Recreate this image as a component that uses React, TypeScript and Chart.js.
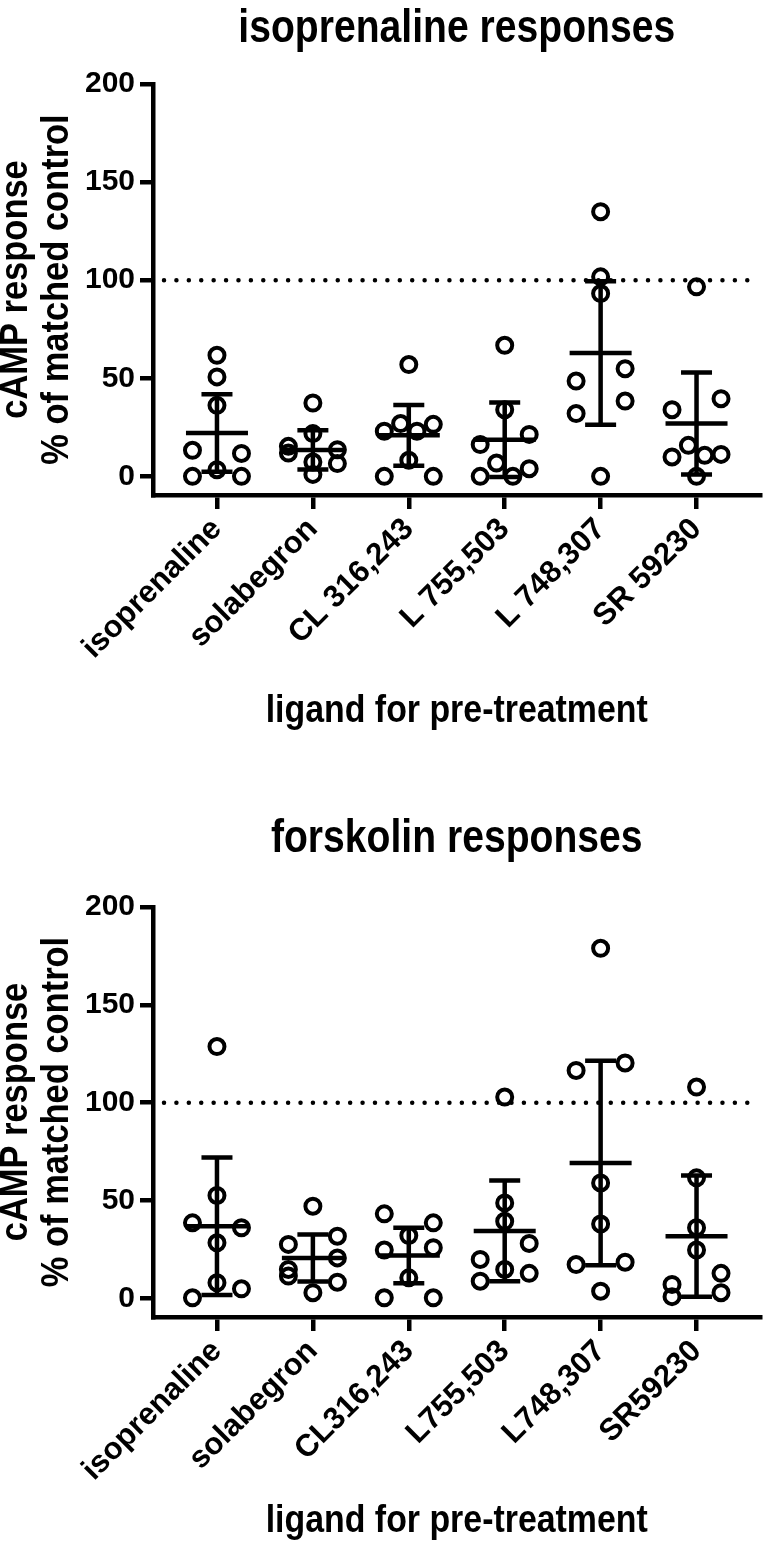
import { useEffect, useRef } from 'react'
import { Chart, registerables } from 'chart.js'
import type { Plugin } from 'chart.js'

Chart.register(...registerables)
Chart.defaults.font.family = '"Liberation Sans", Arial, sans-serif'
Chart.defaults.color = '#000'

// ---- data ----
const isoLabels = ['isoprenaline', 'solabegron', 'CL 316,243', 'L 755,503', 'L 748,307', 'SR 59230']
const forskLabels = ['isoprenaline', 'solabegron', 'CL316,243', 'L755,503', 'L748,307', 'SR59230']
const yTicks = [0, 50, 100, 150, 200]
const refLevel = 100
const xTitle = 'ligand for pre-treatment'
const yTitle = ['cAMP response', '% of matched control']

// isoprenaline responses (% of matched control), one list per pre-treatment
const isoIsoprenaline = [61.7, 50.7, 36.2, 13.3, 11.7, 0, 3.4, 0]
const isoSolabegron = [37.4, 15.3, 21.8, 13.6, 11.9, 7.3, 6.5, 1.0]
const isoCL = [57.0, 23.0, 26.9, 23.0, 26.5, 0, 8.2, 0]
const isoL755 = [66.8, 34.0, 16.2, 21.4, 0, 6.8, 0, 3.9]
const isoL748 = [134.9, 101.7, 93.2, 48.6, 54.9, 32.0, 38.4, 0]
const isoSR = [96.6, 34.0, 39.6, 9.9, 15.8, 10.7, 11.2, 0]
const isoMean = [22.1, 13.5, 20.9, 18.7, 62.9, 26.9]
const isoSd = [19.7, 10.0, 15.5, 19.0, 36.6, 26.0]

// forskolin responses (% of matched control)
const forskIsoprenaline = [128.7, 52.6, 38.6, 36.1, 28.4, 0.3, 8.0, 4.9]
const forskSolabegron = [47.1, 27.6, 31.8, 14.8, 20.7, 11.4, 8.3, 2.9]
const forskCL = [43.2, 38.6, 24.7, 32.1, 25.9, 10.5, 0.3, 0.3]
const forskL755 = [102.9, 48.8, 39.4, 19.9, 28.1, 8.8, 14.8, 12.8]
const forskL748 = [178.9, 116.5, 120.3, 59.0, 38.0, 17.3, 18.5, 3.7]
const forskSR = [108.0, 61.6, 36.1, 24.7, 7.1, 12.8, 0.9, 2.9]
const forskMean = [36.9, 20.7, 21.9, 34.5, 69.2, 31.8]
const forskSd = [35.1, 12.0, 14.2, 25.7, 52.3, 31.0]

const FONT = '"Liberation Sans", Arial, sans-serif'

// spread points of a column sideways, row by row (like a column scatter)
const swarmPlugin: Plugin<'scatter'> = {
  id: 'swarm',
  afterDatasetsUpdate(chart) {
    const rowGap = 16.4
    const half = 24.5
    chart.data.datasets.forEach((_ds, di) => {
      const pts = chart.getDatasetMeta(di).data as any[]
      const order = pts.map((_p, i) => i).sort((a, b) => pts[a].y - pts[b].y)
      const rows: number[][] = []
      let anchor = -Infinity
      order.forEach(i => {
        if (rows.length && pts[i].y - anchor <= rowGap) rows[rows.length - 1].push(i)
        else {
          rows.push([i])
          anchor = pts[i].y
        }
      })
      rows.forEach(row => {
        row.sort((a, b) => a - b)
        const n = row.length
        row.forEach((i, k) => {
          pts[i].x += n === 1 ? 0 : -half + (2 * half * k) / (n - 1)
        })
      })
    })
  }
}

const meanSdPlugin: Plugin<'scatter'> = {
  id: 'meanSd',
  afterDatasetsDraw(chart, _args, opts: any) {
    const { ctx } = chart
    const x = chart.scales.x
    const y = chart.scales.y
    ctx.save()
    ctx.strokeStyle = '#000'
    ctx.lineWidth = 4.5
    ctx.lineCap = 'butt'
    opts.mean.forEach((m: number, i: number) => {
      const cx = x.getPixelForValue(i)
      const ym = y.getPixelForValue(m)
      const yHi = y.getPixelForValue(m + opts.sd[i])
      const yLo = y.getPixelForValue(m - opts.sd[i])
      ctx.beginPath()
      ctx.moveTo(cx - 31, ym)
      ctx.lineTo(cx + 31, ym)
      ctx.moveTo(cx, yHi)
      ctx.lineTo(cx, yLo)
      ctx.moveTo(cx - 15.5, yHi)
      ctx.lineTo(cx + 15.5, yHi)
      ctx.moveTo(cx - 15.5, yLo)
      ctx.lineTo(cx + 15.5, yLo)
      ctx.stroke()
    })
    ctx.restore()
  }
}

const refLinePlugin: Plugin<'scatter'> = {
  id: 'refLine',
  beforeDatasetsDraw(chart, _args, opts: any) {
    const { ctx, chartArea } = chart
    const yy = chart.scales.y.getPixelForValue(opts.value)
    ctx.save()
    ctx.strokeStyle = '#000'
    ctx.lineWidth = 4.5
    ctx.lineCap = 'round'
    ctx.setLineDash([0.01, 12.4])
    ctx.beginPath()
    ctx.moveTo(chartArea.left + 11, yy)
    ctx.lineTo(chartArea.right - 10, yy)
    ctx.stroke()
    ctx.restore()
  }
}

// condensed bold text (the figure uses a narrow face)
function narrowText(ctx: CanvasRenderingContext2D, text: string, x: number, y: number, size: number, squeeze: number, angle = 0) {
  ctx.save()
  ctx.translate(x, y)
  ctx.rotate(angle)
  ctx.scale(squeeze, 1)
  ctx.font = `bold ${size}px ${FONT}`
  ctx.fillStyle = '#000'
  ctx.textAlign = 'center'
  ctx.textBaseline = 'alphabetic'
  ctx.fillText(text, 0, 0)
  ctx.restore()
}

// panel title and axis titles, centred on the plot area
const titlesPlugin: Plugin<'scatter'> = {
  id: 'titles',
  afterDraw(chart, _args, opts: any) {
    const { ctx, chartArea } = chart
    const cx = (chartArea.left + chartArea.right) / 2
    const cy = (chartArea.top + chartArea.bottom) / 2
    narrowText(ctx, opts.text, cx, opts.baseline, 46, 0.85)
    narrowText(ctx, xTitle, cx, opts.xBaseline, 38.5, 0.88)
    narrowText(ctx, yTitle[0], 27, cy, 38.5, 0.895, -Math.PI / 2)
    narrowText(ctx, yTitle[1], 68, cy, 38.5, 0.895, -Math.PI / 2)
  }
}

interface PanelProps {
  title: string
  labels: string[]
  groups: number[][]
  mean: number[]
  sd: number[]
  height: number
  padTop: number
  plotBottom: number
  titleBaseline: number
  xTitleBaseline: number
}

function Panel({ title, labels, groups, mean, sd, height, padTop, plotBottom, titleBaseline, xTitleBaseline }: PanelProps) {
  const canvasRef = useRef<HTMLCanvasElement | null>(null)

  useEffect(() => {
    if (!canvasRef.current) return
    const chart = new Chart(canvasRef.current, {
      type: 'scatter',
      data: {
        datasets: groups.map((vals, i) => ({
          label: labels[i],
          data: vals.map(v => ({ x: i, y: v })),
          pointRadius: 7.5,
          pointHoverRadius: 7.5,
          pointBorderWidth: 4,
          pointBorderColor: '#000',
          pointBackgroundColor: 'rgba(0,0,0,0)',
          showLine: false
        }))
      },
      options: {
        responsive: false,
        animation: false,
        layout: { padding: { top: padTop, left: 0, right: 2, bottom: 0 } },
        scales: {
          x: {
            type: 'linear',
            min: -0.667,
            max: 5.667,
            afterBuildTicks: (s: any) => {
              s.ticks = labels.map((_l, i) => ({ value: i }))
            },
            afterFit: (s: any) => {
              s.height = height - plotBottom
            },
            ticks: {
              callback: (_v: any, i: number) => labels[i],
              font: { size: 31, weight: 'bold' },
              color: '#000',
              minRotation: 45,
              maxRotation: 45,
              autoSkip: false,
              padding: 2
            },
            grid: { drawOnChartArea: false, drawTicks: true, tickLength: 14, lineWidth: 4.5, color: '#000' },
            border: { display: true, width: 4.5, color: '#000' }
          },
          y: {
            min: -9.5,
            max: 200,
            afterBuildTicks: (s: any) => {
              s.ticks = yTicks.map(v => ({ value: v }))
            },
            afterFit: (s: any) => {
              s.width = 153
            },
            ticks: { font: { size: 30, weight: 'bold' }, color: '#000', padding: 5 },
            grid: { drawOnChartArea: false, drawTicks: true, tickLength: 13, lineWidth: 4.5, color: '#000' },
            border: { display: true, width: 4.5, color: '#000' }
          }
        },
        plugins: {
          legend: { display: false },
          tooltip: { enabled: false },
          refLine: { value: refLevel },
          meanSd: { mean, sd },
          titles: { text: title, baseline: titleBaseline, xBaseline: xTitleBaseline }
        } as any
      },
      plugins: [swarmPlugin, refLinePlugin, meanSdPlugin, titlesPlugin]
    })
    return () => chart.destroy()
  }, [title, labels, groups, mean, sd, height, padTop, plotBottom, titleBaseline, xTitleBaseline])

  return <canvas ref={canvasRef} width={772} height={height} style={{ display: 'block' }} />
}

export default function App() {
  useEffect(() => {
    document.body.style.margin = '0'
    document.body.style.background = '#fff'
  }, [])

  return (
    <div style={{ width: 772, background: '#fff' }}>
      <Panel
        title="isoprenaline responses"
        labels={isoLabels}
        groups={[isoIsoprenaline, isoSolabegron, isoCL, isoL755, isoL748, isoSR]}
        mean={isoMean}
        sd={isoSd}
        height={760}
        padTop={84}
        plotBottom={495}
        titleBaseline={42}
        xTitleBaseline={722}
      />
      <Panel
        title="forskolin responses"
        labels={forskLabels}
        groups={[forskIsoprenaline, forskSolabegron, forskCL, forskL755, forskL748, forskSR]}
        mean={forskMean}
        sd={forskSd}
        height={790}
        padTop={147}
        plotBottom={557}
        titleBaseline={92}
        xTitleBaseline={772}
      />
    </div>
  )
}
